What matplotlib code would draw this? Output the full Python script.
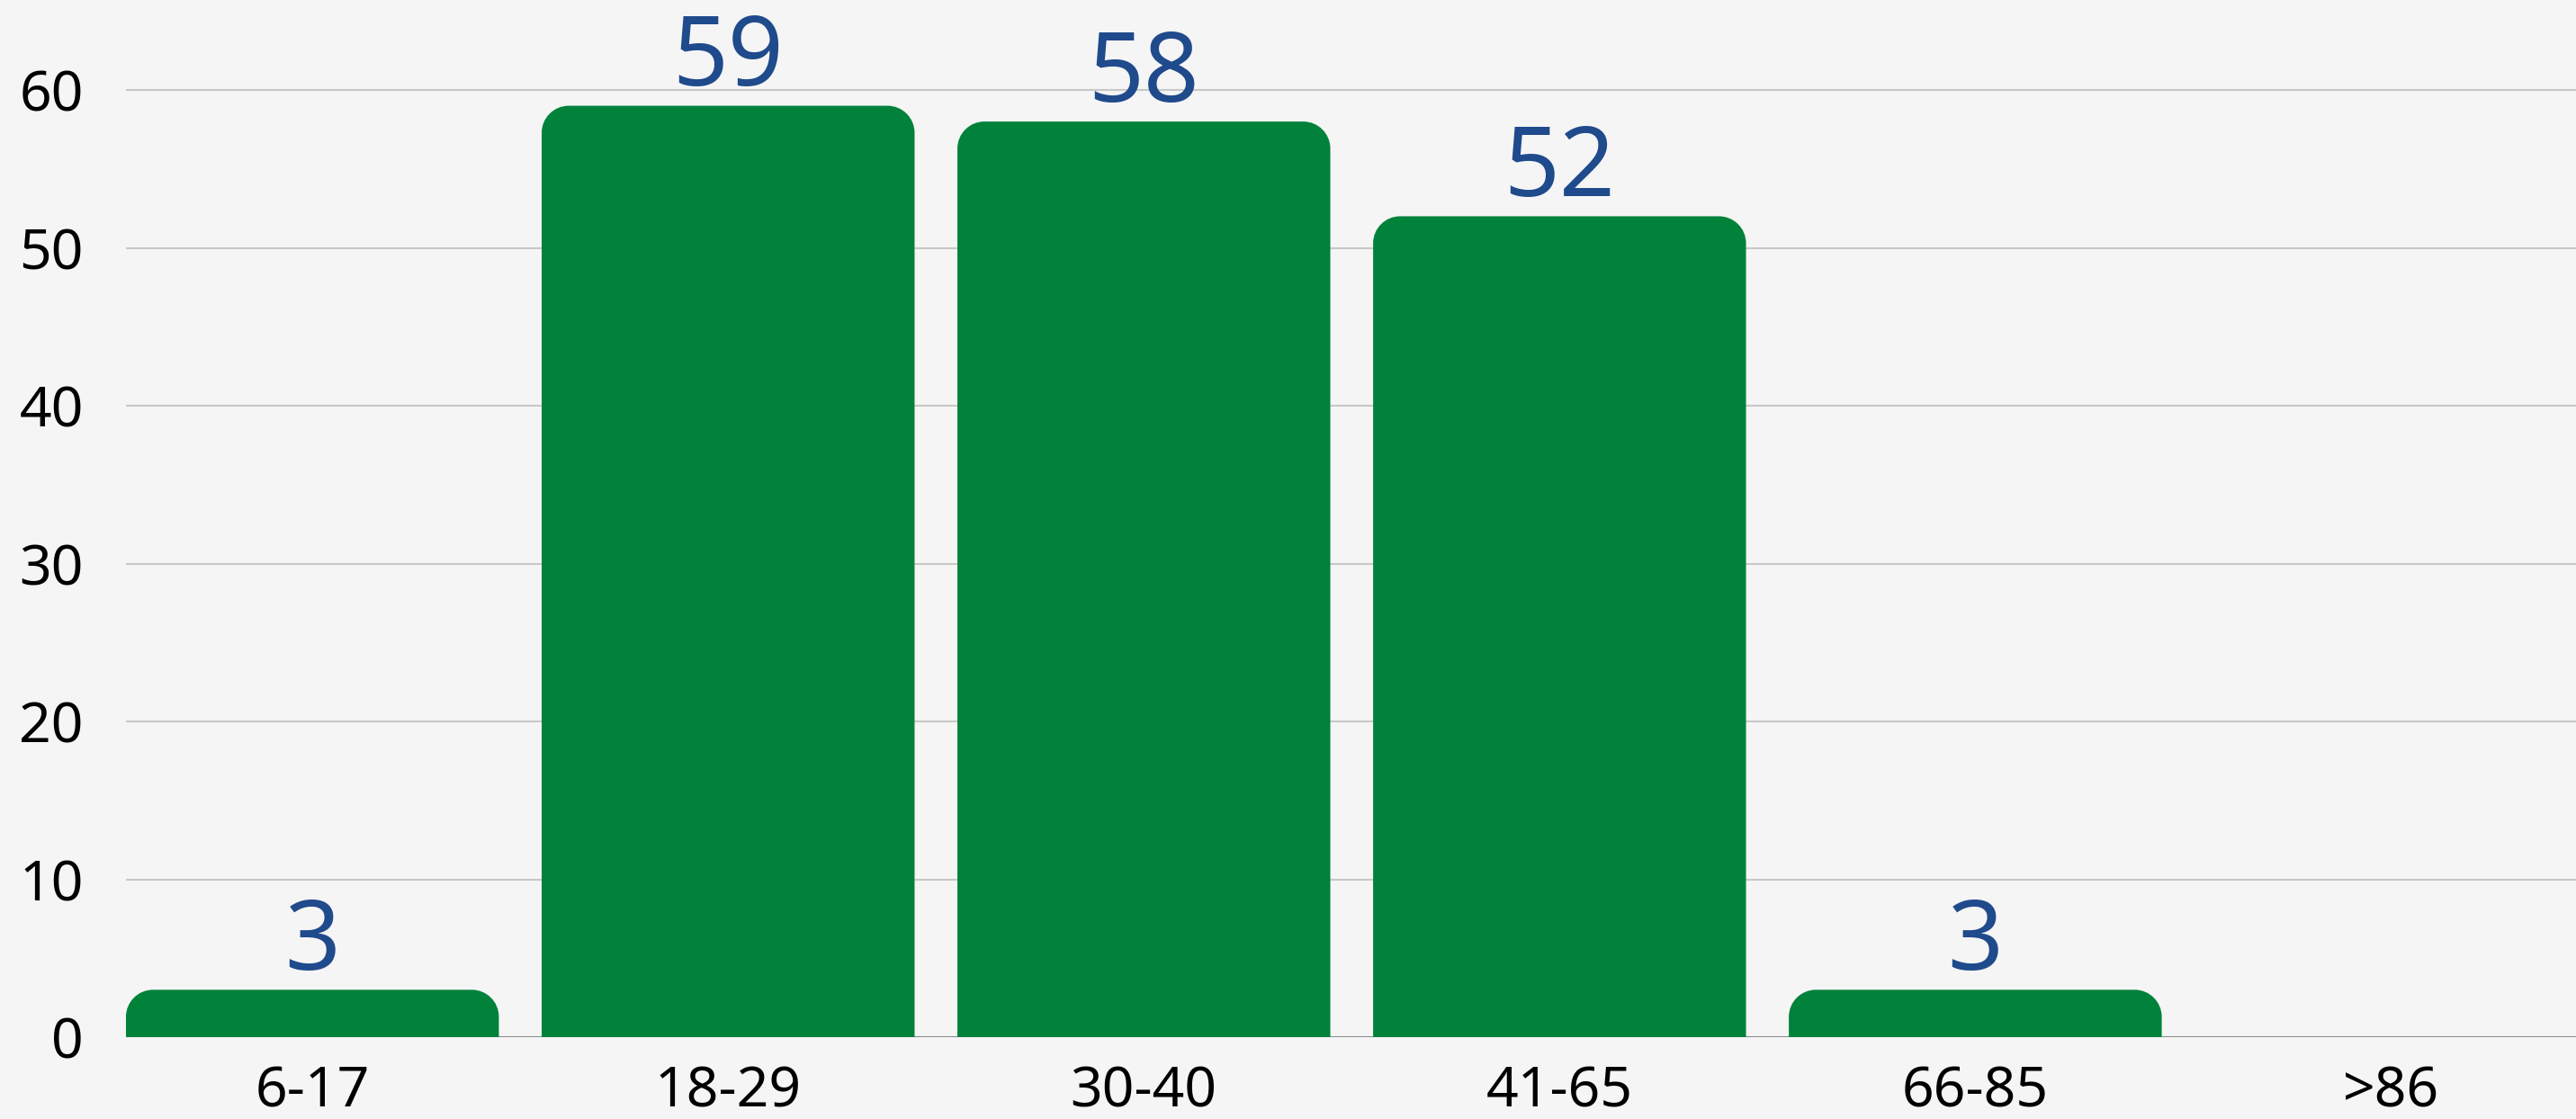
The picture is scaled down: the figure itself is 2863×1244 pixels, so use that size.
import matplotlib.pyplot as plt
import numpy as np
from matplotlib.path import Path
from matplotlib.patches import PathPatch

# data
categories = ['6-17', '18-29', '30-40', '41-65', '66-85', '>86']
values = [3, 59, 58, 52, 3, 0]
yticks = [0, 10, 20, 30, 40, 50, 60]

bar_color = '#00823A'
label_color = '#1F4A8C'
bg = '#F5F5F5'

plt.rcParams['font.family'] = ['Noto Sans', 'DejaVu Sans']

fig = plt.figure(figsize=(28.63, 12.44), dpi=100, facecolor=bg)
ax = fig.add_axes([140 / 2863, 91 / 1244, 1 - 140 / 2863, 1 - 91 / 1244])
ax.set_facecolor(bg)

width = 0.897
x = np.arange(len(categories))
ax.set_xlim(-width / 2, 5.445)
ax.set_ylim(0, 65.7)

# corner radius in data units (about 30 px)
rx = 30 / 462
ry = 30 / 17.55
k = 0.5523

def rounded_bar(xc, h):
    x0, x1 = xc - width / 2, xc + width / 2
    r_y = min(ry, h)
    verts = [(x0, 0), (x0, h - r_y),
             (x0, h - r_y + k * r_y), (x0 + rx - k * rx, h), (x0 + rx, h),
             (x1 - rx, h),
             (x1 - rx + k * rx, h), (x1, h - r_y + k * r_y), (x1, h - r_y),
             (x1, 0), (x0, 0)]
    codes = [Path.MOVETO, Path.LINETO,
             Path.CURVE4, Path.CURVE4, Path.CURVE4,
             Path.LINETO,
             Path.CURVE4, Path.CURVE4, Path.CURVE4,
             Path.LINETO, Path.CLOSEPOLY]
    return PathPatch(Path(verts, codes), facecolor=bar_color, edgecolor='none', zorder=3)

for xc, v in zip(x, values):
    if v > 0:
        ax.add_patch(rounded_bar(xc, v))
        ax.annotate(str(v), (xc, v), xytext=(0, 16), textcoords='offset points',
                    ha='center', va='baseline', fontsize=78, color=label_color,
                    annotation_clip=False)

for t in yticks[1:]:
    ax.axhline(t, color='#C8C8C8', lw=1.5, zorder=1)
ax.axhline(0, color='#8A8A8A', lw=1.5, zorder=2)

for s in ax.spines.values():
    s.set_visible(False)

ax.set_xticks(x)
ax.set_xticklabels(categories)
ax.set_yticks(yticks)
ax.tick_params(axis='both', length=0, labelsize=45, colors='black')
ax.tick_params(axis='y', pad=34)
ax.tick_params(axis='x', pad=22)
for lab in ax.get_xticklabels() + ax.get_yticklabels():
    lab.set_fontweight('light')

fig.savefig('out.png', dpi=100, facecolor=bg)
